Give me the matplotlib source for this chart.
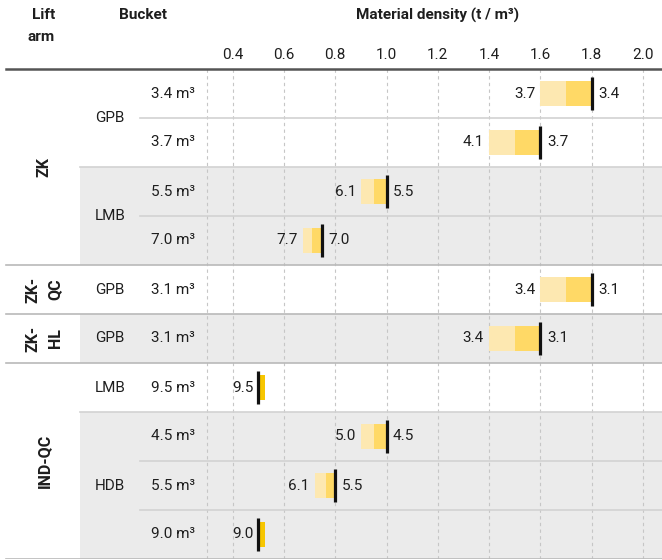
import matplotlib.pyplot as plt
from matplotlib.transforms import blended_transform_factory

plt.rcParams['font.family'] = ['Roboto', 'DejaVu Sans']
plt.rcParams['font.size'] = 11
plt.rcParams['text.color'] = '#1e1e1e'

# table columns
lift_arms = ['ZK', 'ZK-\nQC', 'ZK-\nHL', 'IND-QC']
lift_spans = [4, 1, 1, 4]
buckets = ['GPB', 'LMB', 'GPB', 'GPB', 'LMB', 'HDB']
bucket_spans = [2, 2, 1, 1, 1, 3]
sizes = ['3.4 m³', '3.7 m³', '5.5 m³', '7.0 m³', '3.1 m³',
         '3.1 m³', '9.5 m³', '4.5 m³', '5.5 m³', '9.0 m³']

# material density (t/m3)
light_start = [1.6, 1.4, 0.9, 0.675, 1.6, 1.4, None, 0.9, 0.72, None]
mid_start = [1.7, 1.5, 0.95, 0.71, 1.7, 1.5, None, 0.95, 0.765, None]
max_density = [1.8, 1.6, 1.0, 0.75, 1.8, 1.6, 0.5, 1.0, 0.8, 0.5]
extra_end = [None, None, None, None, None, None, 0.526, None, None, 0.526]
left_labels = ['3.7', '4.1', '6.1', '7.7', '3.4', '3.4', '9.5', '5.0', '6.1', '9.0']
right_labels = ['3.4', '3.7', '5.5', '7.0', '3.1', '3.1', '', '4.5', '5.5', '']
shaded = [False, False, True, True, False, True, False, True, True, True]

ticks = [0.4, 0.6, 0.8, 1.0, 1.2, 1.4, 1.6, 1.8, 2.0]

W, H = 662, 560
fig = plt.figure(figsize=(W / 100, H / 100), dpi=100)
ax = fig.add_axes([0, 1 / H, 1, 490 / H])
ax.set_xlim(-0.507, 2.074)
ax.set_ylim(10, 0)
for s in ax.spines.values():
    s.set_visible(False)
ax.set_yticks([])
ax.xaxis.tick_top()
ax.set_xticks(ticks)
ax.set_xticklabels([f'{t:.1f}' for t in ticks])
ax.tick_params(axis='x', length=0, pad=5, labelsize=11, labelcolor='#1e1e1e')

trans = blended_transform_factory(ax.transAxes, ax.transData)


def fx(px):
    return px / W


n = len(sizes)

# row shading
for i in range(n):
    if shaded[i]:
        ax.axhspan(i, i + 1, xmin=fx(80), xmax=1, color='#ebebeb', lw=0, zorder=0)

# dashed grid
for v in [0.3] + ticks:
    ax.axvline(v, color='#c6c6c6', lw=0.8, ls=(0, (3, 3)), zorder=1)

# separators
lift_ends = []
pos = 0
for s in lift_spans:
    pos += s
    lift_ends.append(pos)
bucket_ends = []
pos = 0
for s in bucket_spans:
    pos += s
    bucket_ends.append(pos)
for y in range(1, n + 1):
    if y in lift_ends:
        ax.axhline(y, xmin=fx(6), xmax=1, color='#b9b9b9', lw=1.2, zorder=2)
    elif y in bucket_ends:
        ax.axhline(y, xmin=fx(80), xmax=1, color='#d2d2d2', lw=1.2, zorder=2)
    else:
        ax.axhline(y, xmin=fx(140), xmax=1, color='#d2d2d2', lw=1.2, zorder=2)
ax.axhline(0, xmin=fx(6), xmax=1, color='#555555', lw=1.8, zorder=3, clip_on=False)

# bars
bh = 0.53
for i in range(n):
    y = i + 0.5
    lo = max_density[i]
    if light_start[i] is not None:
        ax.barh(y, mid_start[i] - light_start[i], left=light_start[i], height=bh,
                color='#fde8b1', lw=0, zorder=3)
        ax.barh(y, max_density[i] - mid_start[i], left=mid_start[i], height=bh,
                color='#ffd966', lw=0, zorder=3)
        lo = light_start[i]
    if extra_end[i] is not None:
        ax.barh(y, extra_end[i] - max_density[i], left=max_density[i], height=bh,
                color='#f7c600', lw=0, zorder=3)
    ax.vlines(max_density[i], y - 0.34, y + 0.34, color='#111111', lw=2.3, zorder=4)
    ax.text(lo - 0.02, y, left_labels[i], ha='right', va='center', zorder=5)
    if right_labels[i]:
        ax.text(max_density[i] + 0.025, y, right_labels[i], ha='left', va='center', zorder=5)

# table text
for i in range(n):
    ax.text(fx(195), i + 0.5, sizes[i], transform=trans, ha='right', va='center')
start = 0
for name, s in zip(buckets, bucket_spans):
    ax.text(fx(110), start + s / 2, name, transform=trans, ha='center', va='center')
    start += s
start = 0
for name, s in zip(lift_arms, lift_spans):
    ax.text(fx(44), start + s / 2, name, transform=trans, ha='center', va='center',
            rotation=90, fontweight='bold', linespacing=1.6, fontsize=11.5)
    start += s

# header
fig.text(fx(55), 1 - 15 / H, 'Lift', ha='right', va='center', fontweight='bold')
fig.text(fx(55), 1 - 37 / H, 'arm', ha='right', va='center', fontweight='bold')
fig.text(fx(143), 1 - 15 / H, 'Bucket', ha='center', va='center', fontweight='bold')
fig.text(fx(438), 1 - 15 / H, 'Material density (t / m³)', ha='center', va='center',
         fontweight='bold')

fig.savefig('out.png', dpi=100)
